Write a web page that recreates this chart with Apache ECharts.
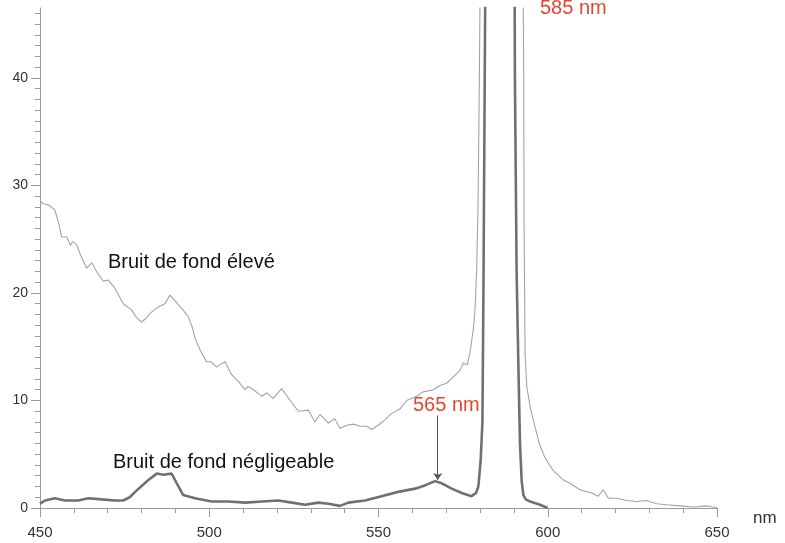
<!DOCTYPE html>
<html>
<head>
<meta charset="utf-8">
<script src="https://cdn.jsdelivr.net/npm/echarts@6/dist/echarts.min.js"></script>
<style>
    html, body { margin: 0; padding: 0; background: #fff; }
    #chart { width: 785px; height: 543px; }
</style>
</head>
<body>
<div id="chart"></div>
<script>
// spectre "bruit de fond élevé" (trait fin)
var highNm = [450.0, 450.8, 452.5, 454.4, 455.5, 456.4, 457.9, 459.0, 459.6, 460.8, 462.0, 463.8, 465.3, 466.7,
    468.7, 470.2, 472.2, 474.6, 477.1, 478.5, 480.0, 481.2, 482.5, 484.9, 486.9, 488.4, 489.5, 490.9, 492.3,
    493.8, 495.0, 495.8, 497.3, 499.2, 500.5, 502.2, 503.5, 504.7, 506.6, 508.5, 510.6, 511.5, 513.0, 515.5,
    517.0, 518.9, 521.4, 523.9, 526.3, 529.3, 531.2, 532.7, 535.2, 537.1, 538.6, 540.6, 542.6, 544.5, 546.5,
    548.0, 549.9, 551.9, 553.9, 556.3, 558.3, 561.3, 563.2, 566.2, 568.2, 570.1, 572.1, 574.1, 575.1, 576.2,
    577.0, 578.0, 578.5, 579.0, 579.4, 579.8, 580.3, 585.0, 592.5, 592.9, 593.0, 593.3, 593.8, 594.8, 596.2,
    597.5, 599.0, 600.5, 601.6, 604.6, 606.6, 609.5, 613.0, 614.9, 616.4, 617.9, 620.4, 623.3, 626.3, 629.2,
    632.2, 635.1, 639.1, 643.0, 646.9, 648.9, 650.0];
var highVal = [28.6, 28.3, 28.2, 27.7, 26.5, 25.2, 25.2, 24.4, 24.8, 24.5, 23.5, 22.3, 22.8, 22.0,
    21.1, 21.2, 20.4, 19.0, 18.4, 17.7, 17.3, 17.6, 18.1, 18.7, 19.0, 19.8, 19.4, 18.9, 18.4,
    17.8, 16.8, 15.8, 14.7, 13.6, 13.6, 13.1, 13.4, 13.6, 12.4, 11.8, 11.0, 11.3, 11.0, 10.4,
    10.7, 10.2, 11.1, 10.0, 9.0, 9.1, 8.0, 8.7, 7.9, 8.3, 7.4, 7.7, 7.8, 7.6, 7.6,
    7.3, 7.7, 8.2, 8.8, 9.2, 10.0, 10.4, 10.8, 11.0, 11.4, 11.6, 12.2, 12.8, 13.5, 13.3,
    14.4, 16.6, 18.4, 22.1, 28.0, 40.0, 60.0, 120.0, 60.0, 40.0, 26.8, 14.4, 11.3, 9.4, 7.6,
    6.0, 4.8, 4.0, 3.5, 2.6, 2.3, 1.7, 1.4, 1.1, 1.7, 0.9, 0.9, 0.7, 0.6, 0.7,
    0.4, 0.3, 0.2, 0.1, 0.2, 0.1, 0.05];

// spectre "bruit de fond négligeable" (trait épais)
var lowNm = [450.0, 451.5, 454.4, 457.4, 461.3, 464.3, 468.2, 472.2, 474.6, 476.5, 478.1, 482.0, 484.5, 486.4,
    488.9, 490.9, 492.3, 495.8, 500.7, 505.6, 510.6, 515.5, 520.4, 524.4, 528.3, 532.2, 535.2, 538.6, 541.1,
    546.0, 550.9, 555.8, 560.8, 563.7, 566.7, 568.7, 571.6, 574.6, 577.5, 578.8, 579.5, 580.2, 580.7, 581.0,
    581.5, 582.0, 585.0, 590.1, 590.3, 590.8, 591.4, 591.8, 592.3, 592.8, 593.5, 594.8, 597.7, 600.0];
var lowVal = [0.4, 0.7, 0.9, 0.7, 0.7, 0.9, 0.8, 0.7, 0.7, 1.0, 1.5, 2.6, 3.2, 3.1,
    3.2, 2.0, 1.2, 0.9, 0.6, 0.6, 0.5, 0.6, 0.7, 0.5, 0.3, 0.5, 0.4, 0.2, 0.5,
    0.7, 1.1, 1.5, 1.8, 2.1, 2.5, 2.3, 1.8, 1.4, 1.1, 1.4, 2.0, 4.5, 8.0, 20.0,
    46.0, 60.0, 120.0, 60.0, 40.0, 22.0, 12.0, 6.0, 2.5, 1.2, 0.8, 0.6, 0.3, 0.0];

var yTicks = [0, 10, 20, 30, 40];
var xTicks = [450, 500, 550, 600, 650];

var yMinorTicks = [];
for (var v = 1; v <= 46; v++) {
    if (v % 10 != 0) yMinorTicks.push(v);
}

function zip(xs, ys) {
    var out = [];
    for (var i = 0; i < xs.length; i++) out.push([xs[i], ys[i]]);
    return out;
}

var font = '"Liberation Sans", Arial, sans-serif';
var axisGrey = '#9a9a9a';

var chart = echarts.init(document.getElementById('chart'));
var option = {
    animation: false,
    backgroundColor: '#fff',
    grid: { left: 40, right: 68, top: 8, bottom: 35, containLabel: false },
    xAxis: {
        type: 'value',
        min: 450,
        max: 650,
        interval: 50,
        axisLine: { lineStyle: { color: axisGrey, width: 1 } },
        axisTick: { length: 9, lineStyle: { color: axisGrey } },
        minorTick: { show: true, splitNumber: 5, length: 5, lineStyle: { color: axisGrey } },
        splitLine: { show: false },
        axisLabel: {
            margin: 17, fontSize: 15, color: '#333', fontFamily: font,
            customValues: xTicks
        },
        name: 'nm',
        nameLocation: 'end',
        nameGap: 36,
        nameTextStyle: { fontSize: 17, color: '#333', fontFamily: font, verticalAlign: 'top', padding: [2, 0, 0, 0] }
    },
    yAxis: [
        {
            type: 'value',
            position: 'left',
            min: 0,
            max: 46.5,
            axisLine: { show: true, lineStyle: { color: axisGrey, width: 1 } },
            axisTick: { show: true, length: 9, customValues: yTicks, lineStyle: { color: axisGrey } },
            axisLabel: { customValues: yTicks, margin: 12, fontSize: 14, color: '#333', fontFamily: font },
            splitLine: { show: false }
        },
        {
            type: 'value',
            position: 'left',
            min: 0,
            max: 46.5,
            axisLine: { show: false },
            axisTick: { show: true, length: 5, customValues: yMinorTicks, lineStyle: { color: axisGrey } },
            axisLabel: { show: false },
            splitLine: { show: false }
        }
    ],
    series: [
        {
            name: 'Bruit de fond élevé',
            type: 'line',
            yAxisIndex: 0,
            data: zip(highNm, highVal),
            showSymbol: false,
            clip: true,
            lineStyle: { color: '#a3a3a3', width: 1.1 }
        },
        {
            name: 'Bruit de fond négligeable',
            type: 'line',
            yAxisIndex: 0,
            data: zip(lowNm, lowVal),
            showSymbol: false,
            clip: true,
            lineStyle: { color: '#707070', width: 2.6 },
            markLine: {
                silent: true,
                symbol: ['none', 'arrow'],
                symbolSize: 7,
                label: { show: false },
                lineStyle: { color: '#555', width: 1, type: 'solid' },
                data: [[{ coord: [567.5, 8.6] }, { coord: [567.5, 2.6] }]]
            }
        }
    ],
    graphic: [
        {
            type: 'text', x: 108, y: 262,
            style: { text: 'Bruit de fond élevé', fill: '#111', font: '20px ' + font, verticalAlign: 'middle' }
        },
        {
            type: 'text', x: 113, y: 462,
            style: { text: 'Bruit de fond négligeable', fill: '#111', font: '20px ' + font, verticalAlign: 'middle' }
        },
        {
            type: 'text', x: 413, y: 405,
            style: { text: '565 nm', fill: '#e5462f', font: '20px ' + font, verticalAlign: 'middle' }
        },
        {
            type: 'text', x: 540, y: 8,
            style: { text: '585 nm', fill: '#e5462f', font: '20px ' + font, verticalAlign: 'middle' }
        }
    ]
};
chart.setOption(option);
</script>
</body>
</html>
